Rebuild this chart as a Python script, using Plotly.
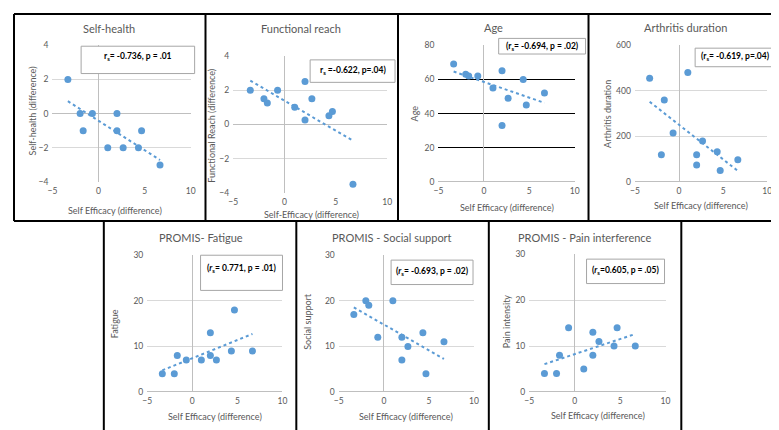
import numpy as np
import plotly.graph_objects as go

W, H = 779, 430

# ---------------- data ----------------
self_efficacy = [-3.33, -2, -1.67, -0.67, 1, 2, 2, 2.67, 4.33, 4.67, 6.67]
self_health = [2, 0, -1, 0, -2, 0, -1, -2, -2, -1, -3]
functional_reach = [2, 1.5, 1.25, 2, 1, 2.5, 0.25, 1.5, 0.5, 0.75, -3.5]
age = [69, 63, 62, 62, 55, 65, 33, 49, 60, 45, 52]
arthritis_duration = [455, 120, 360, 215, 480, 120, 75, 180, 133, 50, 97]
fatigue = [4, 4, 8, 7, 7, 13, 8, 7, 9, 18, 9]
social_support = [17, 20, 19, 12, 20, 12, 7, 10, 13, 4, 11]
pain_intensity = [4, 4, 8, 14, 5, 13, 8, 11, 10, 14, 10]

titles = ["Self-health", "Functional reach", "Age", "Arthritis duration",
          "PROMIS- Fatigue", "PROMIS - Social support", "PROMIS - Pain interference"]
x_titles = ["Self Efficacy (difference)", "Self-Efficacy (difference)", "Self Efficacy (difference)",
            "Self Efficacy (difference)", "Self Efficacy (difference)", "Self Efficacy (difference)",
            "Self Efficacy (difference)"]
y_titles = ["Self-health (difference)", "Functional Reach (difference)", "Age", "Arthritis duration",
            "Fatigue", "Social support", "Pain intensity"]
stats = ["r<sub>s</sub>= -0.736, p = .01", "r<sub>s</sub> =-0.622, p=.04)",
         "(r<sub>s</sub>= -0.694, p = .02)", "(r<sub>s</sub>= -0.619, p=.04)",
         "(<i>r</i><sub>s</sub>= 0.771, p = .01)", "(<i>r</i><sub>s</sub>= -0.693, p = .02)",
         "(<i>r</i><sub>s</sub>=0.605, p = .05)"]
y_series = [self_health, functional_reach, age, arthritis_duration, fatigue, social_support, pain_intensity]
y_ranges = [(-4, 4, 2), (-4, 4, 2), (0, 80, 20), (0, 600, 200), (0, 30, 10), (0, 30, 10), (0, 30, 10)]

# ---------------- layout geometry (pixels) ----------------
plots = [(40, 180, 33, 173), (223, 379, 44, 184), (431, 569, 33, 173), (630, 764, 33, 173),
         (136, 273, 248, 388), (330, 467, 248, 388), (523, 661, 247, 388)]
title_pos = [(97, 16), (292, 16), (487, 15), (681, 15), (190, 230), (384, 230), (579, 230)]
xt_pos = [(103, 202), (302, 206), (500, 199), (697, 197), (205, 413), (398, 413), (593, 412)]
yt_pos = [(20, 100), (201, 115), (407, 103), (602, 103), (103, 318), (298, 316), (500, 316)]
boxes = [(69, 184, 34, 62), (301, 387, 48, 71), (492, 580, 26, 42), (691, 772, 36, 55),
         (190, 273, 248, 284), (383, 466, 253, 278), (581, 660, 252, 277)]
text_y = [45, 59, 34, 45, 262, 265, 264]


def fx(p):
    return p / W


def fy(p):
    return 1 - p / H


BLUE = "#5B9BD5"
GRAY_TXT = "#595959"
FONT = "Lato"

fig = go.Figure()
layout = dict(width=W, height=H, margin=dict(l=0, r=0, t=0, b=0),
              paper_bgcolor="white", plot_bgcolor="rgba(0,0,0,0)", showlegend=False,
              font=dict(family=FONT, color=GRAY_TXT))
shapes, annotations = [], []

for i in range(7):
    k = "" if i == 0 else str(i + 1)
    L, R, T, B = plots[i]
    xs = np.array(self_efficacy)
    ys = np.array(y_series[i], dtype=float)
    fig.add_trace(go.Scatter(x=xs, y=ys, mode="markers", xaxis="x" + k, yaxis="y" + k,
                             marker=dict(color=BLUE, size=7), hoverinfo="skip"))
    m, c = np.polyfit(xs, ys, 1)
    tx = np.array([xs.min(), xs.max()])
    fig.add_trace(go.Scatter(x=tx, y=m * tx + c, mode="lines", xaxis="x" + k, yaxis="y" + k,
                             line=dict(color=BLUE, width=2, dash="dot"), hoverinfo="skip"))
    y0, y1, dy = y_ranges[i]
    grid = "#000000" if i == 2 else "#D9D9D9"
    layout["xaxis" + k] = dict(domain=[fx(L), fx(R)], range=[-5, 10], dtick=5, tick0=0,
                               showgrid=False, zeroline=True, zerolinecolor="#BFBFBF",
                               zerolinewidth=1, showline=False, ticks="", anchor="y" + k,
                               tickfont=dict(size=8.5, color=GRAY_TXT, family=FONT),
                               ticklabelstandoff=3, fixedrange=True)
    layout["yaxis" + k] = dict(domain=[fy(B), fy(T)], range=[y0, y1], dtick=dy, tick0=0,
                               showgrid=True, gridcolor=grid, gridwidth=1,
                               zeroline=True, zerolinecolor="#BFBFBF", zerolinewidth=1,
                               showline=False, ticks="", anchor="x" + k,
                               tickfont=dict(size=8.5, color=GRAY_TXT, family=FONT),
                               ticklabelstandoff=3, fixedrange=True)
    # titles
    annotations.append(dict(x=fx(title_pos[i][0]), y=fy(title_pos[i][1]), xref="paper", yref="paper",
                            text=titles[i], showarrow=False, xanchor="center", yanchor="middle",
                            font=dict(size=11, color=GRAY_TXT, family=FONT)))
    annotations.append(dict(x=fx(xt_pos[i][0]), y=fy(xt_pos[i][1]), xref="paper", yref="paper",
                            text=x_titles[i], showarrow=False, xanchor="center", yanchor="middle",
                            font=dict(size=9, color=GRAY_TXT, family=FONT)))
    annotations.append(dict(x=fx(yt_pos[i][0]), y=fy(yt_pos[i][1]), xref="paper", yref="paper",
                            text=y_titles[i], showarrow=False, xanchor="center", yanchor="middle",
                            textangle=-90, font=dict(size=9, color=GRAY_TXT, family=FONT)))
    bx0, bx1, by0, by1 = boxes[i]
    shapes.append(dict(type="rect", xref="paper", yref="paper", x0=fx(bx0), x1=fx(bx1),
                       y0=fy(by1), y1=fy(by0), fillcolor="white",
                       line=dict(color="#A6A6A6", width=1), layer="above"))
    annotations.append(dict(x=fx((bx0 + bx1) / 2), y=fy(text_y[i]), xref="paper", yref="paper",
                            text="<b>" + stats[i] + "</b>", showarrow=False, xanchor="center",
                            yanchor="middle", font=dict(size=8.5, color="#000000", family=FONT)))

# panel borders
def line(x0, y0, x1, y1):
    shapes.append(dict(type="line", xref="paper", yref="paper", x0=fx(x0), y0=fy(y0),
                       x1=fx(x1), y1=fy(y1), line=dict(color="#000000", width=2), layer="above"))

line(1, 1, 778, 1)
line(1, 1, 1, 213)
line(778, 1, 778, 213)
line(1, 213, 778, 213)
for xv in (195, 390, 583):
    line(xv, 1, xv, 213)
line(92, 213, 92, 429)
line(677, 213, 677, 429)
line(92, 429, 677, 429)
for xv in (287, 482):
    line(xv, 213, xv, 429)

layout["shapes"] = shapes
layout["annotations"] = annotations
fig.update_layout(**layout)
fig.write_html("out.html")
